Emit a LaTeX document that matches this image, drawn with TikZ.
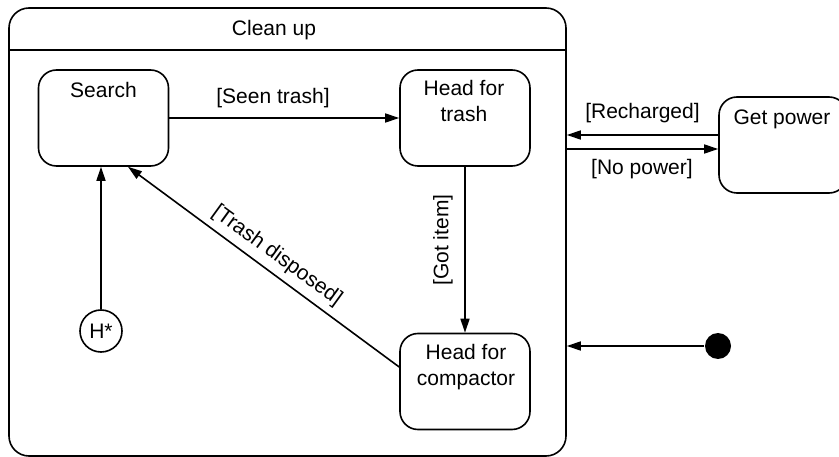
\documentclass[tikz,border=0pt]{standalone}
\usepackage{fontspec}
\setmainfont{Liberation Sans}
\usetikzlibrary{arrows.meta,calc}
\begin{document}
\begin{tikzpicture}[x=1pt,y=-1pt, line width=1.6pt,
  state/.style={draw, rounded corners=18pt, minimum width=130pt, minimum height=96pt, inner sep=0pt},
  lbl/.style={font=\fontsize{21}{26}\selectfont, inner sep=0pt, align=center},
  trans/.style={-{Triangle[length=14pt,width=9pt]}}]
\useasboundingbox (0,0) rectangle (839,457);
\clip (0,0) rectangle (839,457);
% outer composite state
\node[draw, rounded corners=20pt, minimum width=557pt, minimum height=448pt, inner sep=0pt] (cleanup) at (287.5,232) {};
\coordinate (hdr) at (0,50);
\draw (cleanup.west |- hdr) -- (cleanup.east |- hdr);
\node[lbl] (cleanuptxt) at (274,30) {Clean up};
% states
\node[state] (search) at (103.5,118) {};
\node[state] (trash) at (465,118) {};
\node[state] (compactor) at (465,381.5) {};
\node[state, minimum width=128pt] (power) at (783,145) {};
\node[lbl] (searchtxt) at (103.5,90) {Search};
\node[lbl] (trashtxt) at (464,101) {Head for\\trash};
\node[lbl] (compactortxt) at (466,367.5) {Head for\\compactor};
\node[lbl] (powertxt) at (782,119) {Get power};
% history and initial
\node[draw, circle, minimum size=42pt, inner sep=0pt, lbl] (hist) at (101,331) {H*};
\node[circle, fill, minimum size=26pt, inner sep=0pt] (init) at (718,346) {};
% transitions
\draw[trans] (search) -- (trash);
\draw[trans] (trash) -- (compactor);
\draw[trans] ($(compactor.west)+(0,-14.5)$) -- ($(search.south)+(24.5,0)$);
\draw[trans] (hist.north) -- (hist.north |- search.south);
\coordinate (rc) at ($(power.west)+(0,-10)$);
\coordinate (np) at ($(power.west)+(0,4)$);
\draw[trans] (rc) -- (rc -| cleanup.east);
\draw[trans] (np -| cleanup.east) -- (np);
\draw[trans] (init) -- (init -| cleanup.east);
% labels
\node[lbl] (l1) at (273,98) {[Seen trash]};
\node[lbl] (l2) at (642.5,113) {[Recharged]};
\node[lbl] (l3) at (642,169) {[No power]};
\node[lbl, rotate=90] (l4) at (443,240) {[Got item]};
\node[lbl, rotate=-36] (l5) at (277,256) {[Trash disposed]};
\end{tikzpicture}
\end{document}
